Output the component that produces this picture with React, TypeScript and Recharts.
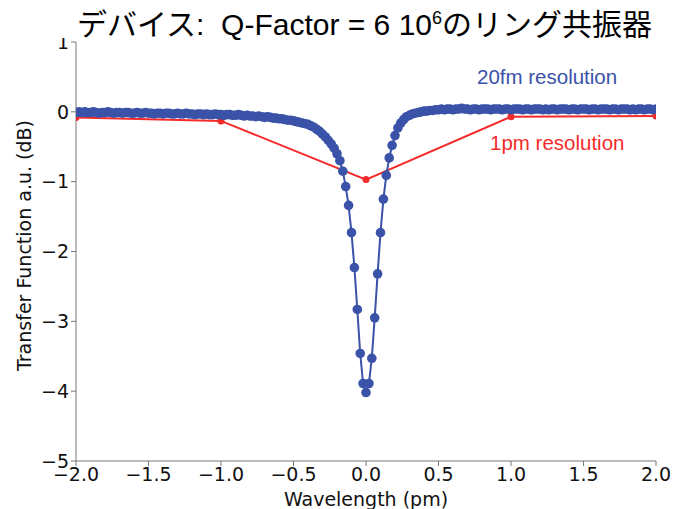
import React from 'react';
import { LineChart, Line, XAxis, YAxis } from 'recharts';

const TITLE_MAIN = 'デバイス:  Q-Factor = 6 10';
const TITLE_SUP = '6';
const TITLE_END = 'のリング共振器';

const X_TICKS = [-2, -1.5, -1, -0.5, 0, 0.5, 1, 1.5, 2];
const Y_TICKS = [-5, -4, -3, -2, -1, 0, 1];

const FINE_START = -2;
const FINE_STEP = 0.02;
const fineValues = [
  -0.01, 0.0, -0.01, 0.0, -0.01, -0.01, 0.0, -0.01, -0.02, -0.01,
  -0.01, 0.0, -0.01, -0.02, -0.01, -0.01, -0.02, -0.01, -0.01, -0.02,
  -0.02, -0.01, -0.02, -0.02, -0.01, -0.02, -0.02, -0.03, -0.02, -0.02,
  -0.03, -0.02, -0.02, -0.03, -0.03, -0.02, -0.03, -0.03, -0.02, -0.03,
  -0.03, -0.04, -0.03, -0.03, -0.04, -0.03, -0.04, -0.04, -0.03, -0.04,
  -0.04, -0.05, -0.04, -0.04, -0.05, -0.05, -0.04, -0.05, -0.06, -0.05,
  -0.06, -0.06, -0.07, -0.06, -0.07, -0.08, -0.07, -0.08, -0.09, -0.09,
  -0.10, -0.10, -0.11, -0.12, -0.12, -0.13, -0.14, -0.15, -0.16, -0.17,
  -0.18, -0.20, -0.22, -0.25, -0.28, -0.32, -0.36, -0.41, -0.46, -0.52,
  -0.60, -0.70, -0.85, -1.07, -1.34, -1.73, -2.23, -2.83, -3.46, -3.89,
  -4.02,
  -3.89, -3.53, -2.95, -2.32, -1.73, -1.25, -0.91, -0.66, -0.48, -0.34,
  -0.23, -0.16, -0.11, -0.07, -0.05, -0.03, -0.02, -0.01, 0.0, 0.01,
  0.01, 0.02, 0.02, 0.03, 0.03,
  0.04, 0.03, 0.04, 0.04, 0.03, 0.04, 0.04, 0.05, 0.04, 0.04,
  0.03, 0.04, 0.04, 0.03, 0.04, 0.04, 0.04, 0.03, 0.04, 0.04,
  0.04, 0.03, 0.04, 0.04, 0.03, 0.04, 0.04, 0.04, 0.03, 0.04,
  0.04, 0.03, 0.04, 0.04, 0.04, 0.03, 0.04, 0.03, 0.04, 0.04,
  0.03, 0.04, 0.04, 0.04, 0.03, 0.04, 0.04, 0.03, 0.04, 0.04,
  0.04, 0.03, 0.04, 0.04, 0.03, 0.04, 0.04, 0.04, 0.03, 0.04,
  0.04, 0.03, 0.04, 0.04, 0.04, 0.03, 0.04, 0.03, 0.04, 0.04,
  0.03, 0.04, 0.04, 0.03, 0.04,
];

const coarseX = [-2, -1, 0, 1, 2];
const coarseValues = [-0.08, -0.13, -0.97, -0.07, -0.06];

const fineData = fineValues.map((y, i) => ({ x: +(FINE_START + i * FINE_STEP).toFixed(2), y }));
const coarseData = coarseX.map((x, i) => ({ x, y: coarseValues[i] }));

const BLUE = '#3a52a8';
const RED = '#f42b2b';
const TICK_FONT = 'DejaVu Sans, sans-serif';
const FS = 19;

const fmt = (v: number, d: number) => v.toFixed(d).replace('-', '\u2212');

export default function App() {
  return (
    <div style={{ position: 'absolute', left: 0, top: 0, width: 673, height: 509, background: '#fff', overflow: 'hidden' }}>
      <LineChart
        width={673}
        height={509}
        margin={{ top: 42, right: 17, left: 0, bottom: 0 }}
      >
        <XAxis
          type="number"
          dataKey="x"
          domain={[-2, 2]}
          ticks={X_TICKS}
          allowDataOverflow
          tickFormatter={(v: number) => fmt(v, 1)}
          height={48}
          stroke="#777"
          tickSize={5}
          tick={{ fill: '#111', fontSize: FS, fontFamily: TICK_FONT }}
          label={{ value: 'Wavelength (pm)', position: 'insideBottom', offset: 3, fill: '#111', fontSize: FS, fontFamily: TICK_FONT }}
        />
        <XAxis xAxisId="top" orientation="top" type="number" dataKey="x" domain={[-2, 2]} tick={false} tickLine={false} height={0} stroke="#777" />
        <YAxis
          type="number"
          domain={[-5, 1]}
          ticks={Y_TICKS}
          allowDataOverflow
          tickFormatter={(v: number) => fmt(v, 0)}
          width={76}
          stroke="#777"
          tickSize={5}
          tick={{ fill: '#111', fontSize: FS, fontFamily: TICK_FONT }}
          label={{ value: 'Transfer Function a.u. (dB)', angle: -90, position: 'insideLeft', offset: 24, dy: -6, fill: '#111', fontSize: FS, fontFamily: TICK_FONT, style: { textAnchor: 'middle' } }}
        />
        <YAxis yAxisId="right" orientation="right" domain={[-5, 1]} tick={false} tickLine={false} width={0} stroke="#777" />
        <Line
          data={coarseData}
          dataKey="y"
          type="linear"
          stroke={RED}
          strokeWidth={2}
          dot={{ r: 3.5, fill: RED, stroke: RED, strokeWidth: 0 }}
          isAnimationActive={false}
        />
        <Line
          data={fineData}
          dataKey="y"
          type="linear"
          stroke={BLUE}
          strokeWidth={2}
          dot={{ r: 4.8, fill: BLUE, stroke: BLUE, strokeWidth: 0 }}
          isAnimationActive={false}
        />
      </LineChart>
      <div
        style={{
          position: 'absolute',
          left: 0,
          top: 0,
          width: 673,
          height: 38,
          background: '#fff',
          textAlign: 'center',
          fontFamily: 'Liberation Sans, Arial, Noto Sans CJK JP, sans-serif',
          fontSize: 30,
          lineHeight: '44px',
          color: '#000',
          whiteSpace: 'pre',
          paddingLeft: 56,
          boxSizing: 'border-box',
        }}
      >
        {TITLE_MAIN}
        <sup style={{ fontSize: 18, verticalAlign: 'top', lineHeight: '36px' }}>{TITLE_SUP}</sup>
        <span style={{ fontFamily: 'Noto Sans CJK JP, sans-serif' }}>{TITLE_END}</span>
      </div>
      <div style={{ position: 'absolute', left: 477, top: 65, fontFamily: 'Liberation Sans, Arial, sans-serif', fontSize: 20.5, color: BLUE, whiteSpace: 'nowrap' }}>
        20fm resolution
      </div>
      <div style={{ position: 'absolute', left: 490, top: 131, fontFamily: 'Liberation Sans, Arial, sans-serif', fontSize: 20.5, color: RED, whiteSpace: 'nowrap' }}>
        1pm resolution
      </div>
    </div>
  );
}
